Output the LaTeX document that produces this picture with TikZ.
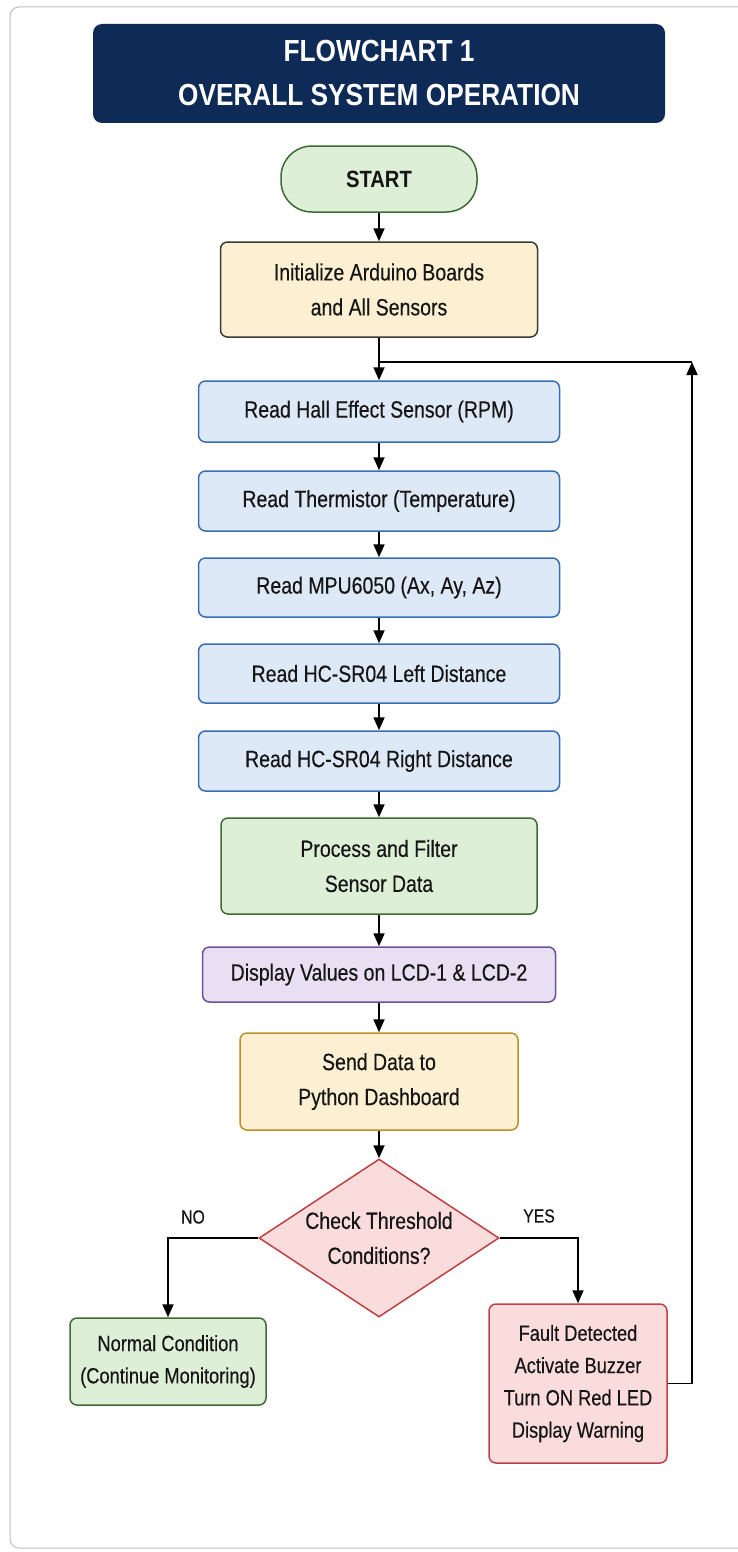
\documentclass[tikz,border=0pt]{standalone}
\usepackage{fontspec}
\setmainfont[FakeStretch=0.86]{Liberation Sans}
\newfontfamily\bodyfont[FakeStretch=0.83, FakeBold=0.35]{Liberation Sans}
\usetikzlibrary{arrows.meta,shapes.geometric}

\definecolor{navy}{HTML}{0E2A56}
\definecolor{txt}{HTML}{151515}
\definecolor{frameg}{HTML}{BDBDBD}
\definecolor{greenF}{HTML}{DDEFD6}
\definecolor{greenD}{HTML}{3D6B36}
\definecolor{yellowF}{HTML}{FDF0D2}
\definecolor{yellowD}{HTML}{B8912C}
\definecolor{initD}{HTML}{3A3A36}
\definecolor{blueF}{HTML}{DEE9F7}
\definecolor{blueD}{HTML}{3B6DB3}
\definecolor{purpleF}{HTML}{E8DFF2}
\definecolor{purpleD}{HTML}{6E5097}
\definecolor{redF}{HTML}{FBDCDC}
\definecolor{redD}{HTML}{BE4044}

\tikzset{
  box/.style={rectangle, rounded corners=7pt, line width=1.5pt, inner sep=0pt,
    align=center, text=txt, font=\bodyfont\fontsize{23.5}{35}\selectfont},
  sensor/.style={box, fill=blueF, draw=blueD, minimum width=361pt, minimum height=60pt},
  smalltxt/.style={font=\bodyfont\fontsize{22}{32.3}\selectfont},
  flow/.style={line width=1.8pt, draw=black, -{Triangle[length=13pt,width=11pt]}},
  plain/.style={line width=1.8pt, draw=black},
  branch/.style={font=\bodyfont\fontsize{19}{20}\selectfont, text=txt, inner sep=0pt}
}

\begin{document}
\begin{tikzpicture}[x=1pt, y=-1pt]
\useasboundingbox (0,0) rectangle (738,1552);

% outer panel
\draw[frameg, line width=1pt, rounded corners=9pt] (10,7) rectangle (760,1548);

% heading
\node[rectangle, rounded corners=9pt, fill=navy, minimum width=572pt, minimum height=99pt,
  inner sep=0pt, align=center, text=white, font=\fontsize{30.5}{44}\selectfont\bfseries]
  (title) at (379,73.5) {FLOWCHART 1\\OVERALL SYSTEM OPERATION};

% main column
\node[box, rounded corners=31pt, fill=greenF, draw=greenD, minimum width=196pt, minimum height=66pt,
  font=\fontsize{23.5}{26}\selectfont\bfseries] (start) at (379,179) {START};
\node[box, fill=yellowF, draw=initD, minimum width=317pt, minimum height=95pt]
  (init) at (379,289.5) {Initialize Arduino Boards\\and All Sensors};
\node[sensor, minimum height=61pt] (hall) at (379,411.5) {Read Hall Effect Sensor (RPM)};
\node[sensor] (therm) at (379,501) {Read Thermistor (Temperature)};
\node[sensor, minimum height=59pt] (mpu) at (379,587.5) {Read MPU6050 (Ax, Ay, Az)};
\node[sensor, minimum height=59pt] (left) at (379,673.5) {Read HC-SR04 Left Distance};
\node[sensor] (right) at (379,761) {Read HC-SR04 Right Distance};
\node[box, fill=greenF, draw=greenD, minimum width=316pt, minimum height=96pt]
  (proc) at (379,866) {Process and Filter\\Sensor Data};
\node[box, fill=purpleF, draw=purpleD, minimum width=353pt, minimum height=55pt]
  (disp) at (379,974.5) {Display Values on LCD-1 \& LCD-2};
\node[box, fill=yellowF, draw=yellowD, minimum width=278pt, minimum height=97pt]
  (send) at (379,1081.5) {Send Data to\\Python Dashboard};

% decision
\node[diamond, aspect=1.52, fill=redF, draw=redD, line width=1.5pt, inner sep=0pt,
  minimum width=240pt, minimum height=158pt] (dec) at (379,1238) {};
\node[align=center, text=txt, inner sep=0pt, font=\bodyfont\fontsize{23.5}{35}\selectfont]
  (dectxt) at (dec.center) {Check Threshold\\Conditions?};

% outcomes
\node[box, smalltxt, fill=greenF, draw=greenD, minimum width=196pt, minimum height=87pt]
  (normal) at (168,1361.5) {Normal Condition\\(Continue Monitoring)};
\node[box, smalltxt, fill=redF, draw=redD, minimum width=178pt, minimum height=159pt]
  (fault) at (578,1383.5) {Fault Detected\\Activate Buzzer\\Turn ON Red LED\\Display Warning};

% connectors
\coordinate (join) at (379,362);
\coordinate (loop) at (692,362);

\draw[flow] (start) -- (init);
\draw[plain] (init.south) -- (join);
\draw[flow] (join) -- (hall);
\draw[flow] (hall) -- (therm);
\draw[flow] (therm) -- (mpu);
\draw[flow] (mpu) -- (left);
\draw[flow] (left) -- (right);
\draw[flow] (right) -- (proc);
\draw[flow] (proc) -- (disp);
\draw[flow] (disp) -- (send);
\draw[flow] (send) -- (dec.north);
\draw[flow] (dec.west) -| (normal.north);
\draw[flow] (dec.east) -| (fault.north);
\draw[flow] (fault.east) -| (loop);
\draw[plain] (loop) -- (join);

% branch labels
\node[branch] (nolbl) at (193,1217) {NO};
\node[branch] (yeslbl) at (539,1216) {YES};
\end{tikzpicture}
\end{document}
